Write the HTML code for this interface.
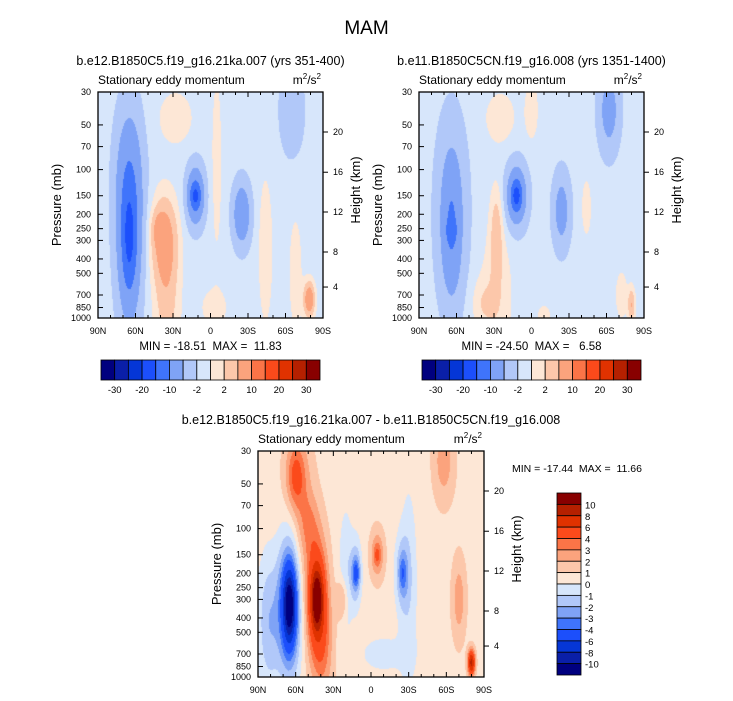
<!DOCTYPE html>
<html><head><meta charset="utf-8">
<style>
body{margin:0;background:#fff;}
#root{position:relative;width:733px;height:701px;overflow:hidden;font-family:"Liberation Sans",sans-serif;color:#000;}
.t{position:absolute;white-space:nowrap;}
canvas{position:absolute;}
svg{position:absolute;left:0;top:0;}
svg text{white-space:pre;}
</style></head>
<body>
<div id="root">
<div class="t" style="left:0;width:733px;text-align:center;top:18px;font-size:19px;">MAM</div>
<canvas id="c1"></canvas>
<canvas id="c2"></canvas>
<canvas id="c3"></canvas>
<svg id="s" width="733" height="701"></svg>
</div>
<script>
// ---- data ----
const latTicks=[90,60,30,0,-30,-60,-90];
const latTickLabels=["90N","60N","30N","0","30S","60S","90S"];
const presTicks=[30,50,70,100,150,200,250,300,400,500,700,850,1000];
const heightTicks=[4,8,12,16,20];
const heightFrac=[0.863,0.708,0.531,0.355,0.177];
const levelsTop=[-30,-25,-20,-15,-10,-5,-2,0,2,5,10,15,20,25,30];
const topLabels=["-30","-20","-10","-2","2","10","20","30"];
const levelsDiff=[-10,-8,-6,-4,-3,-2,-1,0,1,2,3,4,6,8,10];
const colors=["#00007f","#0a1fa8","#0536d6","#1c4ffb","#3f74fb","#7fa3f6","#b1c8f9","#d7e6fb","#fde7d6","#fcc7aa","#fba37d","#fb7447","#fb4a1b","#e03200","#b52000","#880000"];
// panel 1 blobs
const p1Base=-1;
const p1Lat=[65,65,65,37,35,12,12,-25,-79,28,-5,-44,-65,-3,-68,42];
const p1Pres=[300,110,320,300,800,150,150,200,750,45,90,350,40,850,500,250];
const p1Amp=[-9,-5,-5,8,4,-10,-6,-8,10,2.3,2,2.5,-2.5,2,2,3];
const p1WLat=[7,8,4,7,7,5,3,5,3,10,3,4,8,8,4,4];
const p1WP=[0.42,0.35,0.22,0.2,0.3,0.14,0.06,0.15,0.08,0.13,0.45,0.35,0.25,0.1,0.3,0.08];
// panel 2 blobs
const p2Base=-1;
const p2Lat=[64,64,64,12,12,-24,-62,28,28,25,0,-44,-80,-72,40,-10];
const p2Pres=[200,250,260,150,150,190,40,250,700,45,40,180,820,700,800,950];
const p2Amp=[-5,-5,-3,-9,-8,-6,-6,4,3,2.2,2.2,2,6,3,2.2,2];
const p2WLat=[9,5,3,6,3,5,6,3.5,8,9,4,3,2,3,6,4];
const p2WP=[0.45,0.3,0.05,0.15,0.07,0.18,0.2,0.2,0.3,0.13,0.15,0.15,0.08,0.1,0.12,0.05];
// panel 3 blobs (difference)
const p3Base=0.6;
const p3Lat=[65,65,43,43,60,55,12,12,-5,-5,-25,-25,-58,-70,-80,20,-30,82,23,-10,58,50,38,80];
const p3Pres=[330,330,300,300,45,120,200,200,150,150,200,200,35,300,800,200,250,400,300,700,40,90,700,500];
const p3Amp=[-7,-7,6,7,2.5,1,-3,-2.5,2.5,1.5,-2.5,-1.5,2,2,8,-1.5,-1.3,-1.5,2.2,-1,1.5,1.5,1.8,-1];
const p3WLat=[6,3,6,3,5,8,3,2,4,2,4,2,6,4,2,4,5,6,3,15,8,6,6,7];
const p3WP=[0.3,0.15,0.28,0.13,0.15,0.3,0.15,0.06,0.12,0.05,0.17,0.08,0.2,0.2,0.06,0.3,0.5,0.3,0.1,0.1,0.2,0.15,0.25,0.35];

const panels=[
 {id:"c1",x:98,y:92,w:225,h:226,base:p1Base,lat:p1Lat,pres:p1Pres,amp:p1Amp,wl:p1WLat,wp:p1WP,lev:levelsTop},
 {id:"c2",x:419,y:92,w:225,h:226,base:p2Base,lat:p2Lat,pres:p2Pres,amp:p2Amp,wl:p2WLat,wp:p2WP,lev:levelsTop},
 {id:"c3",x:258,y:451,w:226,h:226,base:p3Base,lat:p3Lat,pres:p3Pres,amp:p3Amp,wl:p3WLat,wp:p3WP,lev:levelsDiff}
];
const L30=Math.log10(30),L1000=Math.log10(1000);
function xScale(P,lat){return P.x+(90-lat)/180*P.w;}
function yScale(P,p){return P.y+(Math.log10(p)-L30)/(L1000-L30)*P.h;}
function hex(c){return [parseInt(c.substr(1,2),16),parseInt(c.substr(3,2),16),parseInt(c.substr(5,2),16)];}
function colorFor(v,lev){let i=0;while(i<lev.length&&v>=lev[i])i++;return colors[i];}

panels.forEach(P=>{
 const cv=document.getElementById(P.id);
 cv.width=P.w;cv.height=P.h;cv.style.left=P.x+"px";cv.style.top=P.y+"px";
 const ctx=cv.getContext("2d");const img=ctx.createImageData(P.w,P.h);
 for(let j=0;j<P.h;j++){
  const lp=L30+(j+0.5)/P.h*(L1000-L30);
  for(let i=0;i<P.w;i++){
   const lat=90-(i+0.5)/P.w*180;
   let v=P.base;
   for(let k=0;k<P.amp.length;k++){
    const dx=(lat-P.lat[k])/P.wl[k],dy=(lp-Math.log10(P.pres[k]))/P.wp[k];
    v+=P.amp[k]*Math.exp(-0.5*(dx*dx+dy*dy));
   }
   const c=hex(colorFor(v,P.lev));const o=(j*P.w+i)*4;
   img.data[o]=c[0];img.data[o+1]=c[1];img.data[o+2]=c[2];img.data[o+3]=255;
  }
 }
 ctx.putImageData(img,0,0);
});

const S=document.getElementById("s");const NS="http://www.w3.org/2000/svg";
function el(tag,attrs,name,text){const e=document.createElementNS(NS,tag);for(const k in attrs)e.setAttribute(k,attrs[k]);
 
 
 if(text!==undefined)e.textContent=text;S.appendChild(e);return e;}
const F='"Liberation Sans",sans-serif';
const titles=["b.e12.B1850C5.f19_g16.21ka.007 (yrs 351-400)","b.e11.B1850C5CN.f19_g16.008 (yrs 1351-1400)","b.e12.B1850C5.f19_g16.21ka.007 - b.e11.B1850C5CN.f19_g16.008"];
const minmax=["MIN = -18.51  MAX =  11.83","MIN = -24.50  MAX =   6.58","MIN = -17.44  MAX =  11.66"];
panels.forEach((P,n)=>{
 const cx=P.x+P.w/2;
 el("text",{x:cx,y:P.y-27,"text-anchor":"middle","font-size":12.5,"font-family":F},"panel-title",titles[n]);
 el("text",{x:P.x,y:P.y-8,"font-size":12,"font-family":F},"subtitle","Stationary eddy momentum");
 const u=el("text",{x:P.x+P.w-2,y:P.y-8,"text-anchor":"end","font-size":12,"font-family":F},"units-label","m");
 const t1=document.createElementNS(NS,"tspan");t1.setAttribute("dy","-5");t1.setAttribute("font-size","8");t1.textContent="2";u.appendChild(t1);
 const t2=document.createElementNS(NS,"tspan");t2.setAttribute("dy","5");t2.textContent="/s";u.appendChild(t2);
 const t3=document.createElementNS(NS,"tspan");t3.setAttribute("dy","-5");t3.setAttribute("font-size","8");t3.textContent="2";u.appendChild(t3);
 el("rect",{x:P.x,y:P.y,width:P.w,height:P.h,fill:"none",stroke:"#000","stroke-width":1.3},"plot-frame");
 latTicks.forEach((lt,i)=>{const x=xScale(P,lt);
  el("line",{x1:x,x2:x,y1:P.y+P.h,y2:P.y+P.h-5,stroke:"#000"},"x-tick");
  el("line",{x1:x,x2:x,y1:P.y,y2:P.y+5,stroke:"#000"},"x-tick-top");
  el("text",{x:x,y:P.y+P.h+16,"text-anchor":"middle","font-size":9,"font-family":F},"x-tick-label",latTickLabels[i]);});
 for(let lt=80;lt>-90;lt-=10){if(lt%30===0)continue;const x=xScale(P,lt);
  el("line",{x1:x,x2:x,y1:P.y+P.h,y2:P.y+P.h-3,stroke:"#000"},"x-minor-tick");
  el("line",{x1:x,x2:x,y1:P.y,y2:P.y+3,stroke:"#000"},"x-minor-tick-top");}
 presTicks.forEach(p=>{const y=yScale(P,p);
  el("line",{x1:P.x,x2:P.x+5,y1:y,y2:y,stroke:"#000"},"y-tick");
  el("text",{x:P.x-7,y:y+3,"text-anchor":"end","font-size":9,"font-family":F},"y-tick-label",String(p));});
 heightTicks.forEach((h,i)=>{const y=P.y+heightFrac[i]*P.h;
  el("line",{x1:P.x+P.w,x2:P.x+P.w+5,y1:y,y2:y,stroke:"#000"},"height-tick");
  el("text",{x:P.x+P.w+10,y:y+3,"font-size":9,"font-family":F},"height-tick-label",String(h));});
 el("text",{x:0,y:0,transform:`translate(${P.x-37},${P.y+P.h/2}) rotate(-90)`,"text-anchor":"middle","font-size":13,"font-family":F},"y-axis-title","Pressure (mb)");
 el("text",{x:0,y:0,transform:`translate(${P.x+P.w+37},${P.y+P.h/2-15}) rotate(-90)`,"text-anchor":"middle","font-size":13,"font-family":F},"height-axis-title","Height (km)");
 if(n<2) el("text",{x:cx,y:P.y+P.h+32,"text-anchor":"middle","font-size":11.5,"font-family":F},"min-max-label",minmax[n]);
 else el("text",{x:577,y:472,"text-anchor":"middle","font-size":10.5,"font-family":F},"min-max-label",minmax[n]);
});
// horizontal colorbars
[[101,360],[422,360]].forEach(([x0,y0])=>{
 const bw=219/16;
 colors.forEach((c,i)=>el("rect",{x:x0+i*bw,y:y0,width:bw,height:20,fill:c,stroke:"#000","stroke-width":0.8},"colorbar-box"));
 topLabels.forEach((lb,i)=>el("text",{x:x0+(2*i+1)*bw,y:y0+33,"text-anchor":"middle","font-size":9.5,"font-family":F},"colorbar-label",lb));
});
// vertical colorbar
{const x0=557,y0=493,bh=182/16;
 colors.slice().reverse().forEach((c,i)=>el("rect",{x:x0,y:y0+i*bh,width:24,height:bh,fill:c,stroke:"#000","stroke-width":0.8},"colorbar-box"));
 levelsDiff.slice().reverse().forEach((lv,i)=>el("text",{x:x0+28,y:y0+(i+1)*bh+4,"font-size":9.5,"font-family":F},"colorbar-label",String(lv)));}
</script>
</body></html>
